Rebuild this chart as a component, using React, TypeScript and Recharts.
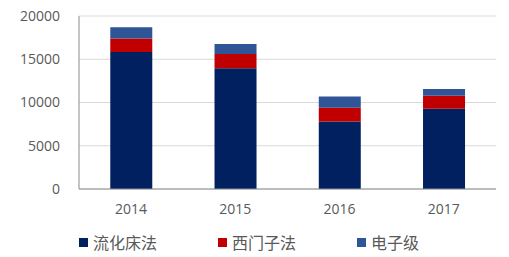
import React from "react";
import { BarChart, Bar, XAxis, YAxis, CartesianGrid, Legend } from "recharts";

const years = ["2014", "2015", "2016", "2017"];
const fluidizedBed = [15850, 13970, 7800, 9270];
const siemens = [1550, 1650, 1600, 1500];
const electronic = [1300, 1150, 1300, 780];
const yTicks = [0, 5000, 10000, 15000, 20000];

const seriesNames = ["流化床法", "西门子法", "电子级"];
const seriesColors = ["#002060", "#C00000", "#2F5597"];

const data = years.map((year, i) => ({
  year,
  a: fluidizedBed[i],
  b: siemens[i],
  c: electronic[i],
}));

// keep series order as in the source, not the sorted payload
function LegendContent() {
  return (
    <div style={{ height: 36, paddingTop: 14, boxSizing: "border-box", display: "flex", paddingLeft: 79 }}>
      {seriesNames.map((name, i) => (
        <div key={name} style={{ width: 147, display: "flex", alignItems: "center", height: 18 }}>
          <span style={{ width: 9, height: 9, background: seriesColors[i], display: "inline-block", marginRight: 5 }} />
          <span style={{ fontFamily: "'Noto Sans CJK SC'", fontSize: 16, color: "#595959", lineHeight: "18px" }}>
            {name}
          </span>
        </div>
      ))}
    </div>
  );
}

export default function App() {
  return (
    <div style={{ position: "absolute", left: 0, top: 0, width: 509, height: 257, background: "#fff" }}>
      <BarChart
        width={509}
        height={257}
        data={data}
        margin={{ top: 16, right: 13, left: 0, bottom: 2 }}
        barCategoryGap="30%"
      >
        <CartesianGrid vertical={false} stroke="#d9d9d9" />
        <XAxis
          dataKey="year"
          height={30}
          tickLine={false}
          tickMargin={9}
          axisLine={{ stroke: "#8c8c8c" }}
          tick={{ fill: "#595959", fontSize: 14, fontFamily: "'Open Sans'" }}
        />
        <YAxis
          width={79}
          domain={[0, 20000]}
          ticks={yTicks}
          tickLine={false}
          tickMargin={13}
          axisLine={{ stroke: "#8c8c8c" }}
          tick={{ fill: "#595959", fontSize: 14, fontFamily: "'Open Sans'" }}
        />
        <Legend verticalAlign="bottom" content={<LegendContent />} />
        <Bar dataKey="a" name={seriesNames[0]} stackId="s" fill={seriesColors[0]} isAnimationActive={false} />
        <Bar dataKey="b" name={seriesNames[1]} stackId="s" fill={seriesColors[1]} isAnimationActive={false} />
        <Bar dataKey="c" name={seriesNames[2]} stackId="s" fill={seriesColors[2]} isAnimationActive={false} />
      </BarChart>
    </div>
  );
}
